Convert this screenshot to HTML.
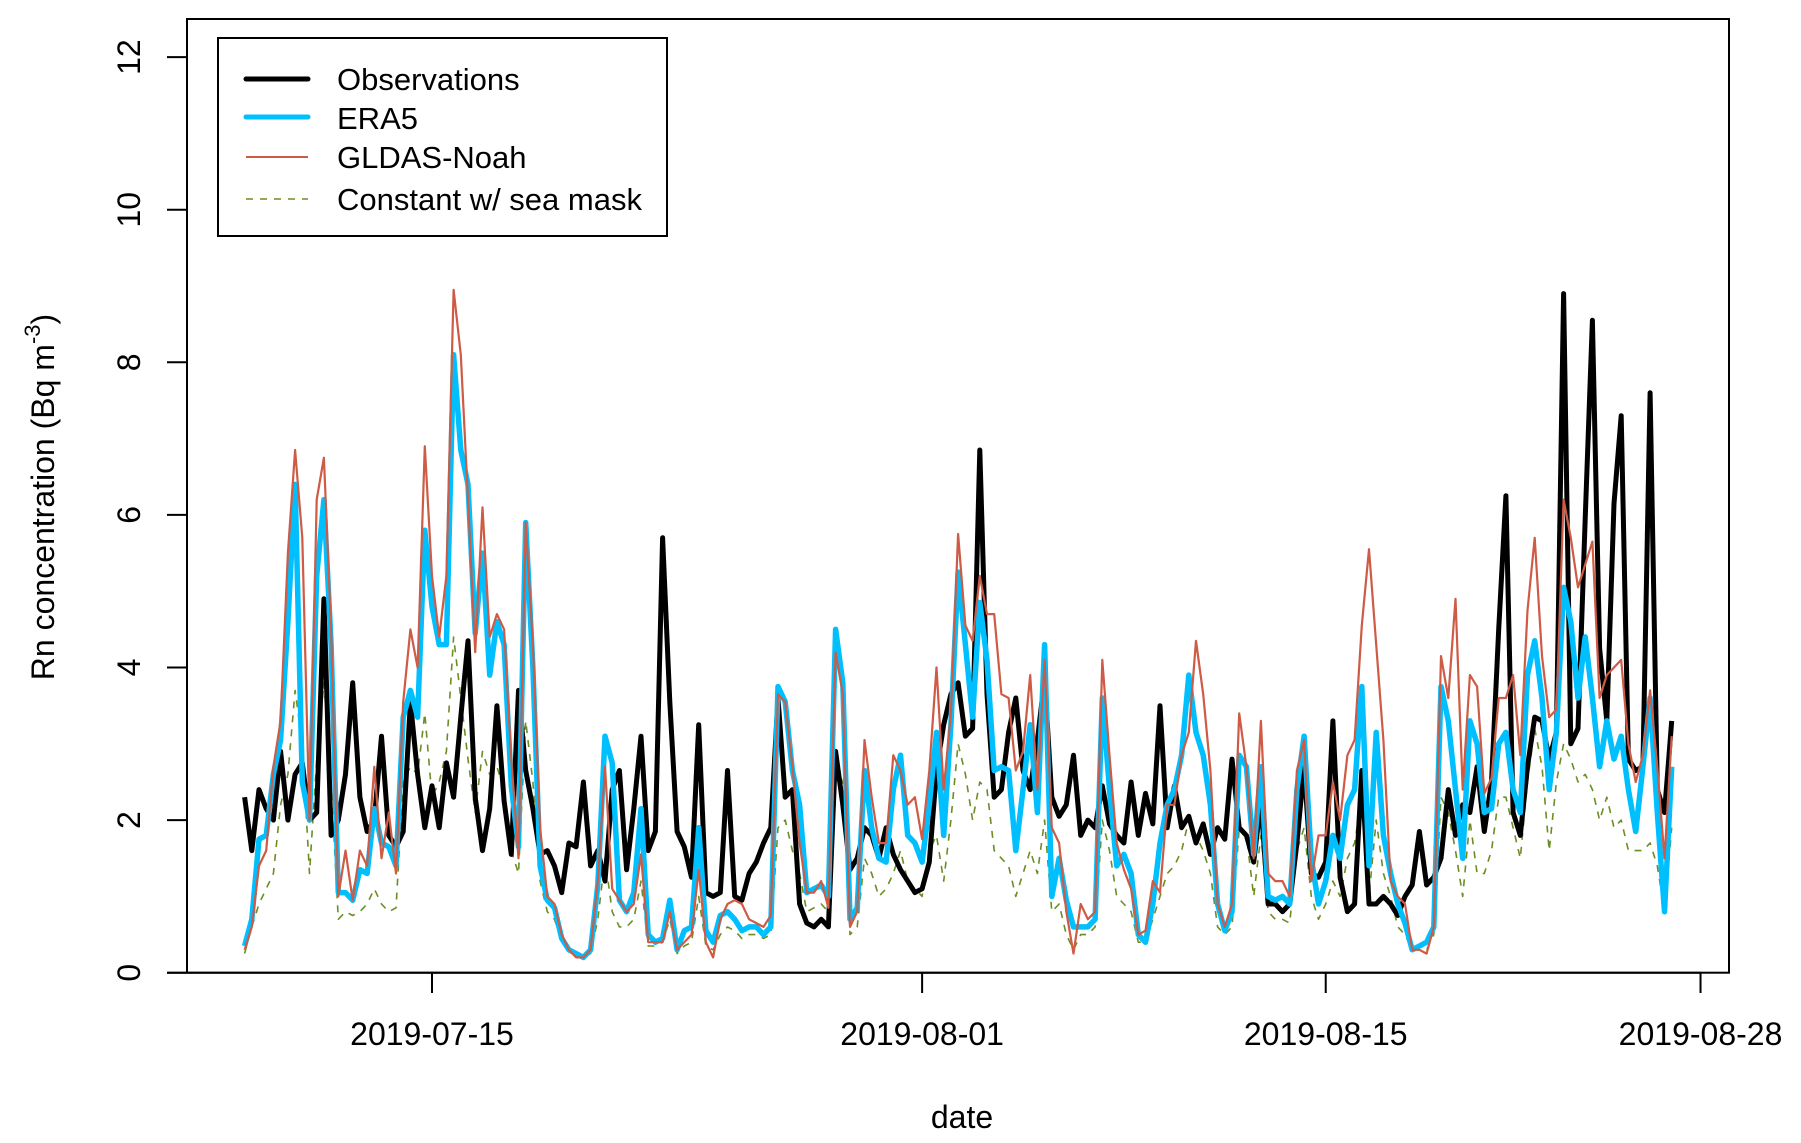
<!DOCTYPE html>
<html><head><meta charset="utf-8"><style>
html,body{margin:0;padding:0;background:#fff;}
svg{display:block;font-family:"Liberation Sans",Arial,sans-serif;}
</style></head><body>
<svg id="chart" width="1801" height="1143" viewBox="0 0 1801 1143" xmlns="http://www.w3.org/2000/svg">
<rect x="0" y="0" width="1801" height="1143" fill="#fff"/>
<g id="series"></g>
<rect x="187" y="19" width="1542" height="953.7" fill="none" stroke="#000" stroke-width="2"/>
<g id="axes"></g>
<text x="962" y="1128" font-size="32" text-anchor="middle">date</text>
<text transform="translate(54,497) rotate(-90)" font-size="32" text-anchor="middle">Rn concentration (Bq m<tspan font-size="22" dy="-14">-3</tspan><tspan dy="14">)</tspan></text>
<g>
<rect x="218" y="38" width="449" height="198" fill="#fff" stroke="#000" stroke-width="2"/>
<line x1="246" y1="79" x2="308" y2="79" stroke="#000" stroke-width="5" stroke-linecap="round"/>
<text x="337" y="90" font-size="31">Observations</text>
<line x1="246" y1="117" x2="308" y2="117" stroke="#00BFFF" stroke-width="5" stroke-linecap="round"/>
<text x="337" y="129" font-size="31">ERA5</text>
<line x1="246" y1="157" x2="308" y2="157" stroke="#CD5B45" stroke-width="2"/>
<text x="337" y="168" font-size="31">GLDAS-Noah</text>
<line x1="246" y1="199" x2="308" y2="199" stroke="#6B8E23" stroke-width="1.5" stroke-dasharray="7,7"/>
<text x="337" y="210" font-size="31">Constant w/ sea mask</text>
</g>
</svg>
<script>
const tStart = 7.5;
const tStep = 0.25;
const xTickDays = [14, 31, 45, 58];
const xTickLabels = ["2019-07-15", "2019-08-01", "2019-08-15", "2019-08-28"];
const yTicks = [0, 2, 4, 6, 8, 10, 12];
const observations = [2.3,1.6,2.4,2.15,2.0,2.9,2.0,2.6,2.75,2.0,2.1,4.9,1.8,2.0,2.6,3.8,2.3,1.85,2.0,3.1,1.8,1.65,1.85,3.55,2.6,1.9,2.45,1.9,2.75,2.3,3.35,4.35,2.3,1.6,2.15,3.5,2.25,1.55,3.7,2.65,2.15,1.55,1.6,1.4,1.05,1.7,1.65,2.5,1.4,1.6,1.2,2.4,2.65,1.35,2.15,3.1,1.6,1.85,5.7,3.55,1.85,1.65,1.25,3.25,1.05,1.0,1.05,
2.65,1.0,0.95,1.3,1.45,1.7,1.9,3.6,2.3,2.4,0.9,0.65,0.6,0.7,0.6,2.9,2.2,1.35,1.5,1.9,1.8,1.5,1.9,1.55,1.35,1.2,1.05,1.1,1.45,2.65,3.25,3.65,3.8,3.1,3.2,6.85,3.65,2.3,2.4,3.15,3.6,2.65,2.4,3.05,3.85,2.3,2.05,2.2,2.85,1.8,2.0,1.9,2.45,1.95,1.8,1.7,2.5,1.8,2.35,1.95,3.5,1.9,2.45,1.9,2.05,1.7,1.95,1.55,
1.9,1.75,2.8,1.9,1.8,1.45,2.25,0.9,0.9,0.8,0.9,1.7,2.7,1.3,1.25,1.45,3.3,1.25,0.8,0.9,2.65,0.9,0.9,1.0,0.9,0.75,1.0,1.15,1.85,1.15,1.25,1.5,2.4,1.8,2.2,2.1,2.7,1.85,2.5,4.5,6.25,2.1,1.8,2.7,3.35,3.3,2.8,3.15,8.9,3.0,3.2,5.95,8.55,4.25,3.3,6.15,7.3,2.8,2.65,2.7,7.6,2.4,2.1,3.3];
const era5 = [0.35,0.7,1.75,1.8,2.6,3.05,4.6,6.4,2.5,2.0,5.2,6.2,4.3,1.05,1.05,0.95,1.35,1.3,2.15,1.7,1.65,1.4,3.35,3.7,3.35,5.8,4.8,4.3,4.3,8.1,6.85,6.4,4.45,5.5,3.9,4.6,4.3,2.45,1.65,5.9,4.0,1.4,0.95,0.85,0.45,0.3,0.25,0.2,0.3,1.15,3.1,2.75,0.95,0.8,1.05,2.15,0.5,0.4,0.45,0.95,0.3,0.55,0.6,1.9,0.55,0.4,0.75,
0.8,0.7,0.55,0.6,0.6,0.5,0.6,3.75,3.55,2.65,2.2,1.05,1.1,1.15,1.0,4.5,3.8,0.7,0.85,2.65,1.9,1.5,1.45,2.4,2.85,1.8,1.7,1.45,2.2,3.15,1.8,3.25,5.25,4.3,3.35,4.85,4.1,2.65,2.7,2.65,1.6,2.4,3.25,2.1,4.3,1.0,1.5,0.95,0.6,0.6,0.6,0.7,3.6,2.4,1.4,1.55,1.3,0.5,0.4,0.9,1.7,2.2,2.4,2.85,3.9,3.15,2.85,2.2,
0.9,0.55,0.8,2.85,2.7,1.55,2.7,1.0,0.95,1.0,0.9,2.4,3.1,1.5,0.9,1.2,1.8,1.5,2.2,2.4,3.75,1.4,3.15,1.8,1.3,0.9,0.65,0.3,0.35,0.4,0.6,3.75,3.3,2.4,1.5,3.3,3.0,2.1,2.15,3.0,3.15,2.4,2.1,3.9,4.35,3.6,2.4,3.15,5.05,4.6,3.6,4.4,3.6,2.7,3.3,2.8,3.1,2.4,1.85,2.7,3.6,2.1,0.8,2.7];
const gldas = [0.3,0.6,1.4,1.6,2.7,3.3,5.5,6.85,5.7,2.0,6.2,6.75,4.5,1.0,1.6,0.95,1.6,1.4,2.7,1.5,2.1,1.3,3.55,4.5,4.0,6.9,5.2,4.4,5.2,8.95,8.1,6.2,4.2,6.1,4.4,4.7,4.5,2.8,1.5,5.9,4.3,1.9,1.0,0.9,0.5,0.3,0.2,0.2,0.3,1.2,2.7,1.1,0.95,0.8,0.9,1.55,0.4,0.4,0.4,0.8,0.3,0.4,0.5,1.35,0.4,0.2,0.7,
0.9,0.95,0.9,0.7,0.65,0.6,0.75,3.65,3.55,2.7,1.7,1.05,1.05,1.2,0.85,4.2,3.65,0.6,0.8,3.05,2.3,1.7,1.7,2.85,2.65,2.2,2.3,1.75,2.65,4.0,2.4,3.4,5.75,4.55,4.35,5.2,4.7,4.7,3.65,3.6,2.65,2.9,3.9,2.4,4.1,1.9,1.7,0.8,0.25,0.9,0.7,0.8,4.1,2.85,1.7,1.35,1.1,0.5,0.55,1.2,1.05,2.2,2.2,2.85,3.15,4.35,3.65,2.65,
0.9,0.6,0.9,3.4,2.7,1.5,3.3,1.3,1.2,1.2,1.0,2.65,3.05,1.2,1.8,1.8,2.5,2.0,2.85,3.05,4.55,5.55,4.3,3.05,1.2,1.0,0.9,0.3,0.3,0.25,0.6,4.15,3.6,4.9,2.4,3.9,3.75,2.35,2.55,3.6,3.6,3.9,2.85,4.75,5.7,4.15,3.35,3.45,6.2,5.7,5.05,5.35,5.65,3.6,3.9,4.0,4.1,3.0,2.5,2.85,3.7,2.7,1.5,3.1];
const constantSea = [0.25,0.6,0.9,1.1,1.3,2.2,2.6,3.7,3.0,1.3,2.8,3.8,2.5,0.7,0.8,0.75,0.8,0.9,1.1,0.9,0.8,0.85,2.5,2.7,2.6,3.4,2.3,2.5,2.9,4.4,3.6,2.8,2.1,2.9,2.6,2.7,2.4,1.6,1.3,3.3,2.5,1.2,0.8,0.7,0.4,0.3,0.2,0.2,0.25,0.7,1.5,0.8,0.6,0.6,0.7,1.2,0.35,0.35,0.4,0.7,0.25,0.35,0.4,1.0,0.35,0.3,0.5,
0.6,0.55,0.45,0.5,0.5,0.45,0.5,1.9,2.0,1.6,1.3,0.8,0.85,0.9,0.8,2.7,2.5,0.5,0.6,1.5,1.3,1.0,1.1,1.3,1.6,1.2,1.1,1.0,1.6,1.8,1.2,2.0,3.0,2.6,2.0,2.5,2.4,1.6,1.5,1.4,1.0,1.3,1.6,1.3,2.0,0.8,0.9,0.5,0.3,0.5,0.5,0.6,2.0,1.6,1.0,0.9,0.8,0.4,0.4,0.7,1.0,1.3,1.4,1.6,2.0,1.8,1.6,1.3,
0.6,0.5,0.6,1.9,1.8,1.0,1.8,0.8,0.7,0.7,0.65,1.6,1.9,1.0,0.7,0.9,1.2,1.0,1.5,1.7,2.3,1.0,2.0,1.3,1.0,0.6,0.5,0.3,0.3,0.3,0.5,2.3,2.1,1.6,1.0,2.0,1.3,1.3,1.6,2.3,2.3,1.9,1.5,2.5,3.2,2.7,1.6,2.5,3.0,2.8,2.5,2.6,2.4,2.0,2.3,1.9,2.0,1.6,1.6,1.6,1.7,1.4,0.8,1.9];

const NS = "http://www.w3.org/2000/svg";
function xScale(t){ return 432 + (t - 14) * 28.83; }
function yScale(v){ return 972.7 - v * 76.3; }

function drawSeries(vals, color, width, dash, name){
  const g = document.getElementById('series');
  const p = document.createElementNS(NS, 'path');
  let d = '';
  vals.forEach((v, i) => {
    const x = xScale(tStart + i * tStep), y = yScale(v);
    d += (i ? 'L' : 'M') + x.toFixed(1) + ' ' + y.toFixed(1);
  });
  p.setAttribute('d', d);
  p.setAttribute('fill', 'none');
  p.setAttribute('stroke', color);
  p.setAttribute('stroke-width', width);
  p.setAttribute('stroke-linejoin', 'round');
  if (dash) p.setAttribute('stroke-dasharray', dash);
  
  
  g.appendChild(p);
}
drawSeries(constantSea, '#6B8E23', 1.6, '7,7', 'constant-sea-mask-line');
drawSeries(observations, '#000000', 5, null, 'observations-line');
drawSeries(era5, '#00BFFF', 5.5, null, 'era5-line');
drawSeries(gldas, '#CD5B45', 2.2, null, 'gldas-noah-line');

const ax = document.getElementById('axes');
function mk(tag, attrs){ const e = document.createElementNS(NS, tag); for (const k in attrs) e.setAttribute(k, attrs[k]); ax.appendChild(e); return e; }
const xl = mk('line', {x1: 167, y1: 972.7, x2: xScale(58), y2: 972.7, stroke: '#000', 'stroke-width': 2});


xTickDays.forEach((t, i) => {
  const tk = mk('line', {x1: xScale(t), y1: 972.7, x2: xScale(t), y2: 993, stroke: '#000', 'stroke-width': 2});
  
  
  const lb = mk('text', {x: xScale(t), y: 1045, 'font-size': 32, 'text-anchor': 'middle'});
  lb.textContent = xTickLabels[i];
  
  
});
yTicks.forEach(v => {
  const tk = mk('line', {x1: 167, y1: yScale(v), x2: 187, y2: yScale(v), stroke: '#000', 'stroke-width': 2});
  
  
  const lb = mk('text', {transform: 'translate(140,' + yScale(v) + ') rotate(-90)', 'font-size': 32, 'text-anchor': 'middle'});
  lb.textContent = String(v);
  
  
});
</script>
</body></html>
